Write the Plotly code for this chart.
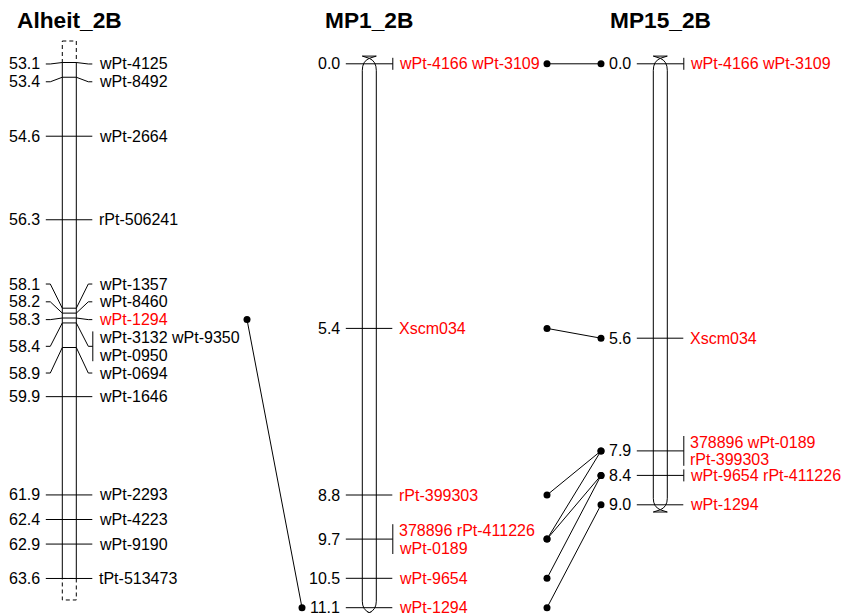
import math
import plotly.graph_objects as go

# ------------------------------------------------------------------ data
map_names = ["Alheit_2B", "MP1_2B", "MP15_2B"]

alheit_pos = [53.1, 53.4, 54.6, 56.3, 58.1, 58.2, 58.3, 58.4, 58.9, 59.9,
              61.9, 62.4, 62.9, 63.6]
alheit_markers = [["wPt-4125"], ["wPt-8492"], ["wPt-2664"], ["rPt-506241"],
                  ["wPt-1357"], ["wPt-8460"], ["wPt-1294"],
                  ["wPt-3132", "wPt-9350", "wPt-0950"], ["wPt-0694"],
                  ["wPt-1646"], ["wPt-2293"], ["wPt-4223"], ["wPt-9190"],
                  ["tPt-513473"]]

mp1_pos = [0.0, 5.4, 8.8, 9.7, 10.5, 11.1]
mp1_markers = [["wPt-4166", "wPt-3109"], ["Xscm034"], ["rPt-399303"],
               ["378896", "rPt-411226", "wPt-0189"], ["wPt-9654"],
               ["wPt-1294"]]

mp15_pos = [0.0, 5.6, 7.9, 8.4, 9.0]
mp15_markers = [["wPt-4166", "wPt-3109"], ["Xscm034"],
                ["378896", "wPt-0189", "rPt-399303"],
                ["wPt-9654", "rPt-411226"], ["wPt-1294"]]

# ------------------------------------------------------------------ layout constants
PAGE_W, PAGE_H = 856, 613
OFF = 8                      # default page (body) margin
W, H = PAGE_W - OFF, PAGE_H - OFF
FONT = "Liberation Sans, Arial, Helvetica, sans-serif"
FS = 16
LH = 17.8          # label line pitch (px)
TOL = 2.5          # allowed label overlap before spreading (px)
BIAS = 3.0         # downward bias of spread label blocks (px)
HALF = 7           # half chromosome width (px)
RED = "#ff0000"

maps = [
    dict(name=map_names[0], pos=alheit_pos, markers=alheit_markers,
         xc=69.3, top_px=62.5, ppc=49.14, style="open"),
    dict(name=map_names[1], pos=mp1_pos, markers=mp1_markers,
         xc=369.3, top_px=63.8, ppc=49.0, style="round"),
    dict(name=map_names[2], pos=mp15_pos, markers=mp15_markers,
         xc=660.3, top_px=63.8, ppc=49.0, style="round"),
]
dot_x = [(247, 302), (547, 601)]   # dot columns between neighbouring maps


def yname(k):
    return "y" if k == 0 else f"y{k + 1}"


def to_px(m, v):
    return m["top_px"] + (v - m["pos"][0]) * m["ppc"]


def to_val(m, px):
    return m["pos"][0] + (px - m["top_px"]) / m["ppc"]


def spread_labels(true_px, nlines, lh):
    blocks = [[i] for i in range(len(true_px))]

    def place(members):
        offs, acc = [], 0.0
        for mm in members:
            h = nlines[mm] * lh
            offs.append(acc + h / 2)
            acc += h
        top = sum(true_px[mm] for mm in members) / len(members) - sum(offs) / len(offs)
        if len(members) > 1:
            top += BIAS
        return top, acc, offs

    merged = True
    while merged:
        merged = False
        for k in range(len(blocks) - 1):
            t1, h1, _ = place(blocks[k])
            t2, _, _ = place(blocks[k + 1])
            if t1 + h1 > t2 + TOL:
                blocks[k:k + 2] = [blocks[k] + blocks[k + 1]]
                merged = True
                break
    centers = [0.0] * len(true_px)
    for b in blocks:
        top, _, offs = place(b)
        for mm, o in zip(b, offs):
            centers[mm] = top + o
    return centers


# shared markers -> red
marker_sets = [set(sum(m["markers"], [])) for m in maps]
for k, m in enumerate(maps):
    others = set()
    if k > 0:
        others |= marker_sets[k - 1]
    if k < len(maps) - 1:
        others |= marker_sets[k + 1]
    m["shared"] = others

fig = go.Figure()
shapes = []
annotations = []

for k, m in enumerate(maps):
    yr = yname(k)
    xc = m["xc"]
    xl, xr = xc - HALF, xc + HALF
    true_px = [to_px(m, v) for v in m["pos"]]
    nlines = [math.ceil(len(mk) / 2) for mk in m["markers"]]
    lab_px = spread_labels(true_px, nlines, LH)
    m["lab_px"] = lab_px

    lx, ly = [], []
    for i, v in enumerate(m["pos"]):
        lv = to_val(m, lab_px[i])
        multi = len(m["markers"][i]) > 1
        end_x = xc + 23.5 if multi else xc + 23
        lx += [xc - 23.5, xc - 19, xl, xr, xc + 19, end_x, None]
        ly += [lv, lv, v, v, lv, lv, None]
        first = lab_px[i] - (nlines[i] - 1) * LH / 2
        last = lab_px[i] + (nlines[i] - 1) * LH / 2
        if multi:
            lx += [xc + 23.5, xc + 23.5, None]
            ly += [to_val(m, first - 6), to_val(m, last + 6), None]
        # number label
        annotations.append(dict(
            x=xc - 28.5, y=lv, xref="x", yref=yr, text=f"{v:.1f}",
            xanchor="right", yanchor="middle", showarrow=False, borderpad=0,
            font=dict(family=FONT, size=FS, color="black")))
        # marker name lines (two names per line)
        mk = m["markers"][i]
        for j in range(nlines[i]):
            names = mk[2 * j:2 * j + 2]
            txt = " ".join(
                f'<span style="color:{RED if n in m["shared"] else "black"}">{n}</span>'
                for n in names)
            annotations.append(dict(
                x=xc + 28.5, y=to_val(m, first + j * LH), xref="x", yref=yr,
                text=txt, xanchor="left", yanchor="middle", showarrow=False,
                borderpad=0, font=dict(family=FONT, size=FS, color="black")))

    # chromosome outline
    top_px, bot_px = true_px[0], true_px[-1]
    if m["style"] == "open":
        lx += [xl, xl, None, xr, xr, None]
        ly += [m["pos"][0], m["pos"][-1], None, m["pos"][0], m["pos"][-1], None]
        ext = 21.5
        for a, b in [(top_px - ext, top_px), (bot_px, bot_px + ext)]:
            fig.add_trace(go.Scatter(
                x=[xl, xr, xr, xl, xl],
                y=[to_val(m, a), to_val(m, a), to_val(m, b), to_val(m, b), to_val(m, a)],
                mode="lines", yaxis=yr, hoverinfo="skip",
                line=dict(color="black", width=1, dash="4px,3px")))
    else:
        at, ab = top_px - 5.5, bot_px + 5
        ys, yb = top_px + 6.5, bot_px - 6.5
        V = lambda p: to_val(m, p)
        path = (f"M {xl},{V(ys)} L {xl},{V(yb)} "
                f"Q {xl},{V(ab - 3)} {xc},{V(ab)} "
                f"Q {xr},{V(ab - 3)} {xr},{V(yb)} "
                f"L {xr},{V(ys)} "
                f"Q {xr},{V(at + 3)} {xc},{V(at)} "
                f"Q {xl},{V(at + 3)} {xl},{V(ys)} Z")
        shapes.append(dict(type="path", path=path, xref="x", yref=yr,
                           line=dict(color="black", width=1)))
        for apex, bar in [(at, at - 2.2), (ab, ab + 2.2)]:
            lx += [xl, xr, xc, xl, None]
            ly += [V(bar), V(bar), V(apex), V(bar), None]

    fig.add_trace(go.Scatter(x=lx, y=ly, mode="lines", yaxis=yr,
                             hoverinfo="skip",
                             line=dict(color="black", width=1)))

    annotations.append(dict(
        x=xc, y=1 - (20 - OFF) / H, xref="x", yref="paper",
        text=f"<b>{m['name']}</b>",
        xanchor="center", yanchor="middle", showarrow=False,
        font=dict(family=FONT, size=22.7, color="black")))

# ------------------------------------------------------------------ connections
for k in range(len(maps) - 1):
    a, b = maps[k], maps[k + 1]
    pairs = []
    for i, mka in enumerate(a["markers"]):
        for j, mkb in enumerate(b["markers"]):
            if set(mka) & set(mkb) and (i, j) not in pairs:
                pairs.append((i, j))
    cx, cy = [], []
    for i, j in pairs:
        left_val = to_val(b, a["lab_px"][i])     # expressed on right map's axis
        right_val = to_val(b, b["lab_px"][j])
        cx += [dot_x[k][0], dot_x[k][1], None]
        cy += [left_val, right_val, None]
    fig.add_trace(go.Scatter(
        x=cx, y=cy, mode="lines+markers", yaxis=yname(k + 1), hoverinfo="skip",
        line=dict(color="black", width=1),
        marker=dict(color="black", size=7)))

# ------------------------------------------------------------------ axes
layout_axes = {}
for k, m in enumerate(maps):
    rng = [to_val(m, OFF + H), to_val(m, OFF)]
    ax = dict(range=rng, visible=False, fixedrange=True, domain=[0, 1])
    if k > 0:
        ax["overlaying"] = "y"
    layout_axes["yaxis" if k == 0 else f"yaxis{k + 1}"] = ax

fig.update_layout(
    width=W, height=H,
    margin=dict(l=0, r=0, t=0, b=0),
    paper_bgcolor="white", plot_bgcolor="white",
    showlegend=False,
    xaxis=dict(range=[OFF, OFF + W], visible=False, fixedrange=True),
    shapes=shapes, annotations=annotations,
    **layout_axes,
)

fig.write_html("out.html")
